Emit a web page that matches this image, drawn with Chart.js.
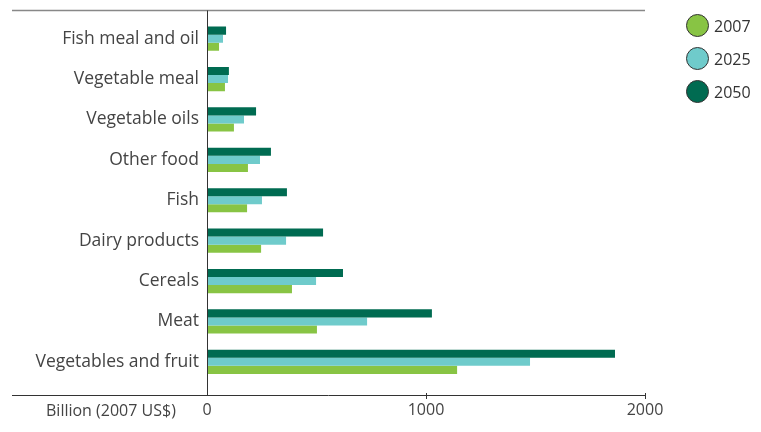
<!DOCTYPE html>
<html>
<head>
<meta charset="utf-8">
<script src="https://cdn.jsdelivr.net/npm/chart.js@4"></script>
<style>
  body { margin: 0; background: #fff; }
  #wrap { position: relative; width: 761px; height: 432px; }
  #legend { position: absolute; left: 686px; top: 9px; font-family: "Open Sans", sans-serif; font-size: 16px; color: #333; }
  .item { display: flex; align-items: center; height: 33px; }
  .dot { width: 23px; height: 23px; border-radius: 50%; border: 1px solid #333; box-sizing: border-box; margin-right: 5px; }
</style>
</head>
<body>
<div id="wrap">
  <canvas id="chart" width="761" height="432"></canvas>
  <div id="legend"></div>
</div>
<script>
// data (billion 2007 US$)
const categories = ['Fish meal and oil', 'Vegetable meal', 'Vegetable oils', 'Other food', 'Fish',
  'Dairy products', 'Cereals', 'Meat', 'Vegetables and fruit'];
const values2007 = [55, 82, 123, 187, 183, 247, 388, 502, 1142];
const values2025 = [73, 96, 169, 242, 251, 361, 498, 731, 1475];
const values2050 = [87, 100, 224, 292, 365, 530, 621, 1027, 1863];
const xTicks = [0, 1000, 2000];
const axisLabel = 'Billion (2007 US$)';

const colors = { '2007': '#88c444', '2025': '#6fcbcb', '2050': '#006b51' };

// legend (2007 on top, like the original)
const legend = document.getElementById('legend');
['2007', '2025', '2050'].forEach(year => {
  const item = document.createElement('div');
  item.className = 'item';
  item.innerHTML = `<span class="dot" style="background:${colors[year]}"></span><span>${year}</span>`;
  legend.appendChild(item);
});

// frame lines, axis ticks and unit label
const framePlugin = {
  id: 'frame',
  afterDraw(chart) {
    const ctx = chart.ctx;
    const area = chart.chartArea;
    const x = chart.scales.x;
    const top = area.top - 8;
    const bottom = area.bottom + 13;
    const left = 12;
    const right = x.getPixelForValue(2000);
    ctx.save();
    ctx.strokeStyle = '#888';
    ctx.lineWidth = 1.5;
    ctx.beginPath();
    ctx.moveTo(left, top);
    ctx.lineTo(right, top);
    ctx.stroke();

    ctx.strokeStyle = '#333';
    ctx.lineWidth = 1;
    ctx.beginPath();
    ctx.moveTo(left, bottom + 0.5);
    ctx.lineTo(right, bottom + 0.5);
    const x0 = Math.round(x.getPixelForValue(0)) + 0.5;
    ctx.moveTo(x0, top);
    ctx.lineTo(x0, bottom);
    xTicks.slice(1).forEach(v => {
      const px = Math.round(x.getPixelForValue(v)) + 0.5;
      ctx.moveTo(px, bottom - 2);
      ctx.lineTo(px, bottom + 4);
    });
    ctx.stroke();

    ctx.fillStyle = '#444';
    ctx.font = '16px "Open Sans"';
    ctx.textAlign = 'left';
    ctx.textBaseline = 'middle';
    ctx.fillText(axisLabel, 46, area.bottom + 29);
    ctx.restore();
  }
};

new Chart(document.getElementById('chart'), {
  type: 'bar',
  data: {
    labels: categories,
    datasets: [
      { label: '2050', data: values2050, backgroundColor: colors['2050'] },
      { label: '2025', data: values2025, backgroundColor: colors['2025'] },
      { label: '2007', data: values2007, backgroundColor: colors['2007'] }
    ]
  },
  options: {
    indexAxis: 'y',
    responsive: false,
    animation: false,
    layout: { padding: { left: 0, right: 116, top: 18, bottom: 0 } },
    datasets: { bar: { categoryPercentage: 0.6, barPercentage: 1 } },
    plugins: { legend: { display: false }, tooltip: { enabled: false } },
    scales: {
      x: {
        min: 0,
        max: 2000,
        afterBuildTicks(scale) { scale.ticks = xTicks.map(v => ({ value: v })); },
        afterFit(scale) { scale.height = 50; },
        grid: { display: false, drawTicks: false },
        border: { display: false },
        ticks: {
          color: '#444', font: { family: 'Open Sans', size: 16 }, padding: 19, maxRotation: 0,
          callback: v => String(v)
        }
      },
      y: {
        afterFit(scale) { scale.width = 207; },
        grid: { display: false, drawTicks: false },
        border: { display: false },
        ticks: { color: '#444', font: { family: 'Open Sans', size: 17.5 }, padding: 8 }
      }
    }
  },
  plugins: [framePlugin]
});
</script>
</body>
</html>
